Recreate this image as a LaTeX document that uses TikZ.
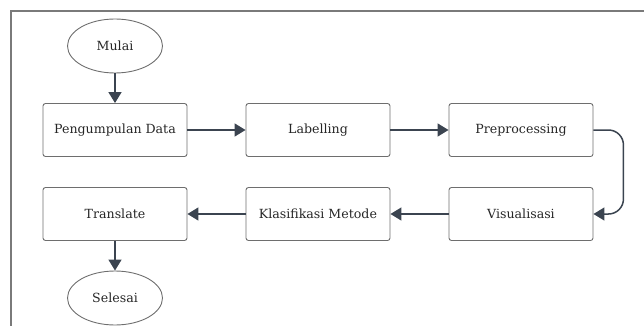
\documentclass[tikz,border=0pt]{standalone}
\usepackage{fontspec}
\setmainfont{DejaVu Serif}
\usetikzlibrary{arrows.meta,shapes.geometric}
\definecolor{arr}{HTML}{3B4450}
\definecolor{boxline}{HTML}{6E6E6E}
\definecolor{frameline}{HTML}{7A7A7A}
\tikzset{
  procbox/.style={draw=boxline, line width=0.9pt, rounded corners=2.5pt, minimum width=144pt, minimum height=53pt, inner sep=0pt, font=\fontsize{12.6}{14}\selectfont, text=black!85},
  term/.style={draw=boxline, line width=0.9pt, ellipse, minimum width=95pt, minimum height=54pt, inner sep=0pt, font=\fontsize{12.6}{14}\selectfont, text=black!85},
  flow/.style={draw=arr, line width=1.5pt, -{Triangle[length=11pt,width=13pt]}}
}
\begin{document}
\begin{tikzpicture}[x=1pt,y=-1pt]
\useasboundingbox (0,0) rectangle (644,326);
\draw[frameline, line width=1.6pt] (11,330) -- (11,11) -- (650,11);
\node[term] (mulai) at (115,46) {Mulai};
\node[procbox] (pd) at (115,130) {Pengumpulan Data};
\node[procbox] (lab) at (318,130) {Labelling};
\node[procbox] (pre) at (521,130) {Preprocessing};
\node[procbox] (vis) at (521,214) {Visualisasi};
\node[procbox] (kla) at (318,214) {Klasifikasi Metode};
\node[procbox] (tra) at (115,214) {Translate};
\node[term] (sel) at (115,298) {Selesai};
\draw[flow] (mulai) -- (pd);
\draw[flow] (pd) -- (lab);
\draw[flow] (lab) -- (pre);
\draw[flow, rounded corners=15pt] (pre.east) -- ++(30,0) |- (vis.east);
\draw[flow] (vis) -- (kla);
\draw[flow] (kla) -- (tra);
\draw[flow] (tra) -- (sel);
\end{tikzpicture}
\end{document}
